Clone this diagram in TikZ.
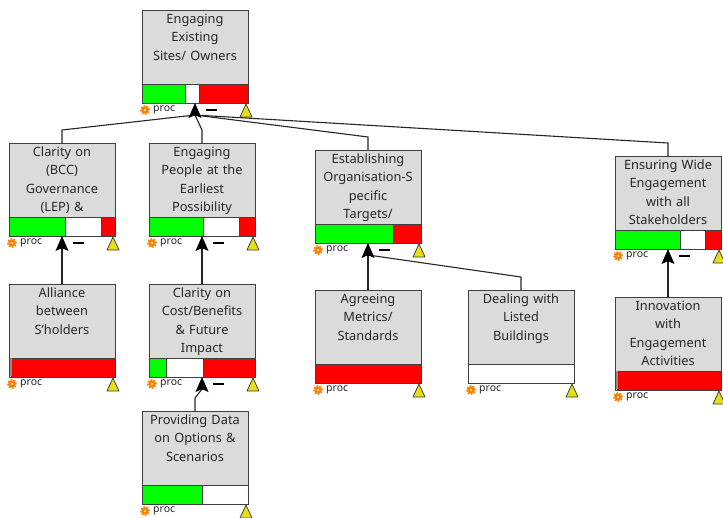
\documentclass[tikz,border=0pt]{standalone}
\usepackage{fontspec}
\setmainfont{Noto Sans}
\usetikzlibrary{arrows.meta}

\begin{document}
\begin{tikzpicture}[x=1pt,y=-1pt,
  opbox/.style={draw=black!75, line width=1pt, fill=black!14, minimum width=106pt, minimum height=74pt, outer sep=0pt, inner sep=0pt},
  optext/.style={anchor=north, inner sep=3.5pt, text width=104pt, align=center, font=\fontsize{12.8}{18.5}\selectfont, text=black!85},
  barpart/.style={draw=black!75, line width=1pt},
  proctext/.style={anchor=west, inner sep=0pt, font=\fontsize{10.5}{11}\selectfont, text=black!85},
  warn/.style={draw=black!75, fill=yellow!90!black, line width=0.8pt, line join=round},
  link/.style={draw=black!85, line width=1.1pt},
  tiparrow/.style={-{Stealth[length=15pt,width=13pt,inset=3pt]}, black, line width=1.2pt}]
\useasboundingbox (0,0) rectangle (723,517);
% boxes: name/left/top/green/white/text
\foreach \id/\x/\y/\g/\w/\txt in {
  a/142/10/43/14/{Engaging\\Existing\\Sites/ Owners},
  b/9/143/56/36/{Clarity on\\(BCC)\\Governance\\(LEP) \&},
  c/149/143/54/36/{Engaging\\People at the\\Earliest\\Possibility},
  d/315/150/78/0/{Establishing\\Organisation-S\\pecific\\Targets/},
  e/615/156/65/25/{Ensuring Wide\\Engagement\\with all\\Stakeholders},
  f/9/284/0/2/{Alliance\\between\\S'holders},
  g/149/284/17/37/{Clarity on\\Cost/Benefits\\\& Future\\Impact},
  h/315/290/0/0/{Agreeing\\Metrics/\\Standards},
  i/468/290/0/106/{Dealing with\\Listed\\Buildings},
  j/615/297/0/2/{Innovation\\with\\Engagement\\Activities},
  k/142/411/60/46/{Providing Data\\on Options \&\\Scenarios}}
{
  \node[opbox, anchor=north west, label={[optext]90:{\txt}}] (\id) at (\x,\y) {};
  \filldraw[barpart, fill=green] (\x,\y+74) rectangle (\x+\g,\y+93);
  \filldraw[barpart, fill=white] (\x+\g,\y+74) rectangle (\x+\g+\w,\y+93);
  \filldraw[barpart, fill=red] (\x+\g+\w,\y+74) rectangle (\x+106,\y+93);
  \fill[orange] (\x+3,\y+100) circle (3.6pt);
  \draw[orange, line width=1.4pt, dash pattern=on 1.8pt off 1.4pt] (\x+3,\y+100) circle (4.2pt);
  \fill[white] (\x+3,\y+100) circle (1.1pt);
  \node[proctext] (\id-proc) at (\x+11,\y+100) {proc};
  \filldraw[warn] (\x+98,\y+107) -- (\x+104,\y+94) -- (\x+110,\y+107) -- cycle;
}
\fill[black!45] (10,358) rectangle (11.5,376);
\fill[black!45] (616,371) rectangle (617.5,389);
% arrow ends under the parents
\foreach \id/\tx/\ty in {a/195/103, b/62/236, c/202/236, d/368/243, e/668/249, g/202/377}
{
  \coordinate (\id-tip) at (\tx,\ty);
  \coordinate (\id-tail) at (\tx,\ty+12);
  \draw[black, line width=2.4pt] (\tx+11,\ty+7) -- (\tx+22,\ty+7);
}
\draw[link] (b.north) -- ++(0,-13) -- (a-tail);
\draw[link] (c.north) -- ++(0,-13) -- (a-tail);
\draw[link] (d.north) -- ++(0,-13) -- (a-tail);
\draw[link] (e.north) -- ++(0,-13) -- (a-tail);
\draw[link] (f.north) -- (b-tail);
\draw[link] (g.north) -- (c-tail);
\draw[link] (h.north) -- (d-tail);
\draw[link] (i.north) -- ++(0,-13) -- (d-tail);
\draw[link] (j.north) -- (e-tail);
\draw[link] (k.north) -- ++(0,-13) -- (g-tail);
\foreach \id in {a,b,c,d,e,g}
  \draw[tiparrow] (\id-tail) -- (\id-tip);
\end{tikzpicture}
\end{document}
